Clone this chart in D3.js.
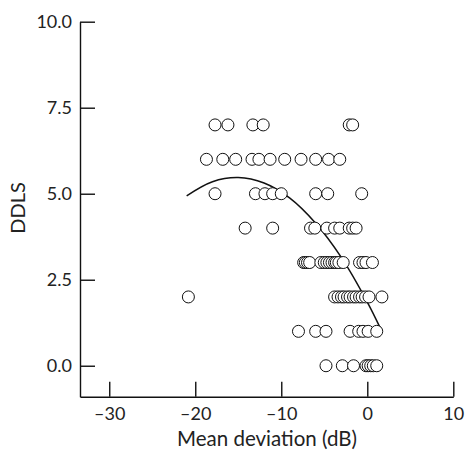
<!DOCTYPE html>
<html>
<head>
<meta charset="utf-8">
<script src="https://cdn.jsdelivr.net/npm/d3@7"></script>
<style>
  body { margin: 0; background: #fff; }
  text { font-family: Lato, "Noto Sans", sans-serif; fill: #222; }
</style>
</head>
<body>
<div id="chart"></div>
<script>
// DDLS rows (y value) with mean deviation readings (x values)
var row7 = [-17.7, -16.2, -13.3, -12.1, -2.1, -1.7];
var row6 = [-18.7, -16.8, -15.3, -13.4, -12.6, -11.3, -9.6, -7.7, -6.0, -4.5, -3.2];
var row5 = [-17.7, -13.0, -11.9, -11.0, -10.0, -6.0, -4.6, -0.65];
var row4 = [-14.2, -11.0, -6.6, -6.1, -4.7, -3.8, -3.2, -2.1, -1.7, -1.3];
var row3 = [-7.4, -7.2, -6.95, -6.7, -5.4, -5.0, -4.7, -4.4, -4.1, -3.8, -3.6, -3.3, -2.8, -0.9, -0.5, -0.15, 0.6];
var row2 = [-20.8, -3.8, -3.4, -3.0, -2.7, -2.3, -2.0, -1.6, -1.3, -0.9, -0.6, -0.2, 0.2, 1.7];
var row1 = [-8.0, -6.0, -4.8, -2.0, -1.0, -0.5, 0.1, 1.1];
var row0 = [-4.8, -2.9, -1.6, -0.15, 0.1, 0.4, 0.7, 1.1];
var rows = [[0, row0], [1, row1], [2, row2], [3, row3], [4, row4], [5, row5], [6, row6], [7, row7]];

// fitted curve
var curveX = [-21, -18, -15, -12, -9, -6, -3, 0, 1.5];
var curveY = [4.94, 5.35, 5.47, 5.31, 4.87, 4.14, 3.14, 1.85, 1.1];

var xTicks = [-30, -20, -10, 0, 10];
var yTicks = [0, 2.5, 5, 7.5, 10];

var width = 466, height = 450;

var svg = d3.select("#chart")
	.append("svg")
	.attr("width", width)
	.attr("height", height);

var x = d3.scaleLinear().domain([-33.4, 10]).range([80, 453.3]);
var y = d3.scaleLinear().domain([-0.9, 10]).range([396.7, 21.7]);

var points = [];
rows.forEach(function(r) {
	r[1].forEach(function(v) { points.push({x: v, y: r[0]}); });
});

var dash = function(s) { return s.replace("\u2212", "\u2013"); };

var xAxis = svg.append("g")
	.attr("transform", "translate(0," + y(-0.9) + ")")
	.call(d3.axisTop(x).tickValues(xTicks).tickSize(15).tickSizeOuter(0).tickFormat(function(d) { return dash(d3.format("d")(d)); }));
xAxis.selectAll("text")
	.attr("y", 11)
	.attr("dy", "0.71em")
	.style("font-size", "18px");

var yAxis = svg.append("g")
	.attr("transform", "translate(" + x(-33.4) + ",0)")
	.call(d3.axisRight(y).tickValues(yTicks).tickSize(15).tickSizeOuter(0).tickFormat(d3.format(".1f")));
yAxis.selectAll("text")
	.attr("x", -8)
	.attr("text-anchor", "end")
	.style("font-size", "18px");

svg.selectAll(".domain, .tick line")
	.attr("stroke", "#111")
	.attr("stroke-width", 1.4);

var line = d3.line()
	.x(function(d, i) { return x(curveX[i]); })
	.y(function(d) { return y(d); })
	.curve(d3.curveCatmullRom);

svg.append("path")
	.datum(curveY)
	.attr("d", line)
	.attr("fill", "none")
	.attr("stroke", "#111")
	.attr("stroke-width", 1.5);

svg.selectAll("circle")
	.data(points)
	.enter().append("circle")
	.attr("cx", function(d) { return x(d.x); })
	.attr("cy", function(d) { return y(d.y); })
	.attr("r", 6)
	.attr("fill", "#fff")
	.attr("stroke", "#111")
	.attr("stroke-width", 1);

svg.append("text")
	.attr("x", 267)
	.attr("y", 446)
	.attr("text-anchor", "middle")
	.style("font-size", "20.5px")
	.text("Mean deviation (dB)");

svg.append("text")
	.attr("transform", "translate(25,208) rotate(-90)")
	.attr("text-anchor", "middle")
	.style("font-size", "20px")
	.text("DDLS");
</script>
</body>
</html>
